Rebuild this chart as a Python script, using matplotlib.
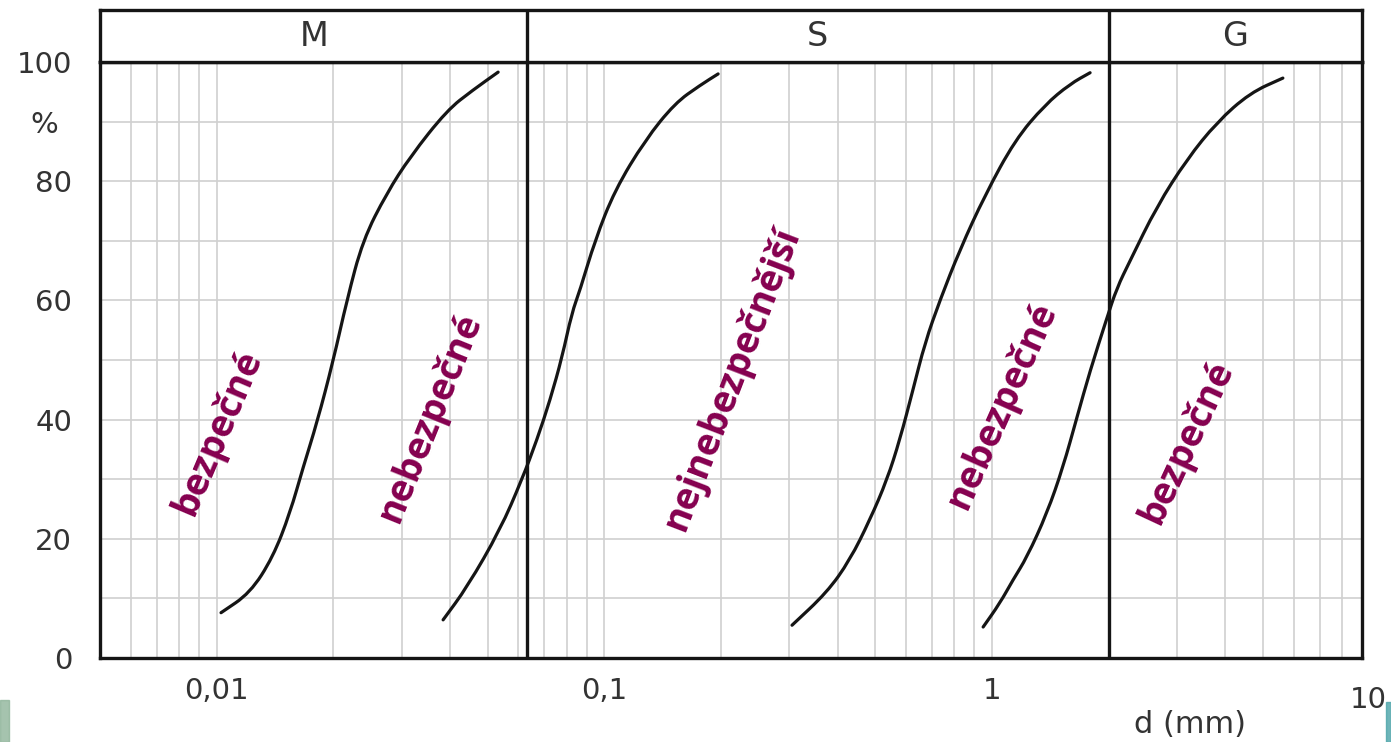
import matplotlib
matplotlib.use("Agg")
import numpy as np
import matplotlib.pyplot as plt
import matplotlib.transforms as mtransforms
from matplotlib.path import Path
from matplotlib.patches import PathPatch, Rectangle

# Grain size boundaries (mm) between silt (M), sand (S) and gravel (G)
bounds = [0.063, 2.0]
zones = ["M", "S", "G"]
zone_x = [0.0178, 0.355, 4.24]

# Grading limit curves: grain size d (mm) and passing (%)
c1_d = [0.01026, 0.01219, 0.01396, 0.01545, 0.01671, 0.01816, 0.01995, 0.02168,
        0.02382, 0.02746, 0.03155, 0.03926, 0.04581, 0.0532]
c1_p = [7.6, 10.9, 16.9, 24.3, 32.0, 39.6, 49.7, 60.1, 70.1, 78.0, 84.1, 91.9, 95.3, 98.3]

c2_d = [0.03837, 0.04426, 0.05383, 0.06124, 0.06699, 0.07244, 0.0778, 0.08241,
        0.0865, 0.09462, 0.1064, 0.1274, 0.1521, 0.1766, 0.1965]
c2_p = [6.4, 11.9, 21.5, 29.9, 36.6, 43.3, 50.5, 57.9, 61.7, 70.1, 78.5, 86.9, 93.1, 96.1, 98.0]

c3_d = [0.3048, 0.375, 0.4295, 0.4842, 0.5358, 0.5781, 0.6252, 0.6714, 0.7345,
        0.826, 0.9594, 1.146, 1.368, 1.588, 1.79]
c3_p = [5.5, 11.0, 16.4, 23.2, 29.9, 36.6, 45.0, 52.9, 60.1, 68.5, 77.7, 86.9, 92.8, 96.3, 98.2]

c4_d = [0.9484, 1.0475, 1.132, 1.23, 1.386, 1.524, 1.656, 1.79, 1.977, 2.099,
        2.268, 2.662, 3.184, 3.802, 4.624, 5.625]
c4_p = [5.2, 9.2, 13.1, 16.9, 24.3, 32.0, 40.4, 48.2, 57.0, 62.1, 66.6, 75.8, 83.7, 89.9, 94.8, 97.3]

# Zone labels between the curves
lab_text = ["bezpečné", "nebezpečné", "nejnebezpečnější", "nebezpečné", "bezpečné"]
lab_d = [0.01008, 0.03548, 0.2133, 1.061, 3.184]
lab_p = [37.8, 40.3, 46.8, 42.3, 36.1]
lab_rot = [67, 68, 69, 66, 65]

xticks = [0.01, 0.1, 1]
xtick_labels = ["0,01", "0,1", "1"]
yticks = [0, 20, 40, 60, 80, 100]


def smooth_path(d, p):
    """Quadratic Bezier path through the curve, corners rounded at each point."""
    d = np.asarray(d)
    p = np.asarray(p)
    mid_d = np.sqrt(d[:-1] * d[1:])  # midpoint on a log axis
    mid_p = (p[:-1] + p[1:]) / 2
    verts = [(d[0], p[0]), (mid_d[0], mid_p[0])]
    codes = [Path.MOVETO, Path.LINETO]
    for i in range(1, len(d) - 1):
        verts += [(d[i], p[i]), (mid_d[i], mid_p[i])]
        codes += [Path.CURVE3, Path.CURVE3]
    verts.append((d[-1], p[-1]))
    codes.append(Path.LINETO)
    return Path(verts, codes)


W, H = 1391, 742
fig = plt.figure(figsize=(W / 100, H / 100), dpi=100)
ax = fig.add_axes([100 / W, 84 / H, 1262 / W, 596 / H])
band = fig.add_axes([100 / W, 680 / H, 1262 / W, 52 / H], sharex=ax)

ink = "#151515"
grid_c = "#d0d0d0"
text_c = "#333333"

ax.set_xscale("log")
ax.set_xlim(0.005, 9)
ax.set_ylim(0, 100)
ax.set_yticks(yticks)
ax.set_yticks(range(10, 100, 10), minor=True)
ax.grid(which="both", color=grid_c, lw=1.2)
ax.set_axisbelow(True)
ax.set_xticks(xticks)
ax.set_xticklabels(xtick_labels)
ax.tick_params(which="both", length=0, labelsize=21, labelcolor=text_c)
ax.tick_params(axis="x", pad=14)
ax.tick_params(axis="y", pad=20)
for s in ax.spines.values():
    s.set_linewidth(2.4)
    s.set_color(ink)

trans = mtransforms.blended_transform_factory(ax.transAxes, ax.transAxes)
ax.text(1.005, -0.07, "10", transform=trans, ha="center", va="center",
        fontsize=21, color=text_c)
ax.text(-0.044, 0.894, "%", transform=ax.transAxes, ha="center", va="center",
        fontsize=21, color=text_c)
ax.text(0.864, -0.111, "d (mm)", transform=ax.transAxes, ha="center", va="center",
        fontsize=22, color=text_c)

for d, p in [(c1_d, c1_p), (c2_d, c2_p), (c3_d, c3_p), (c4_d, c4_p)]:
    ax.add_patch(PathPatch(smooth_path(d, p), fill=False, edgecolor=ink, lw=2.3,
                           capstyle="round", joinstyle="round"))

for b in bounds:
    ax.axvline(b, color=ink, lw=2.4)
    band.axvline(b, color=ink, lw=2.4)

for t, d, p, r in zip(lab_text, lab_d, lab_p, lab_rot):
    ax.text(d, p, t, rotation=r, rotation_mode="anchor", ha="center", va="center",
            fontsize=27, fontweight="bold", family="Open Sans", color="#85004f")

# Header band with the soil classes
band.set_ylim(0, 1)
band.set_yticks([])
band.tick_params(which="both", length=0, labelbottom=False)
for s in band.spines.values():
    s.set_linewidth(2.4)
    s.set_color(ink)
for z, x in zip(zones, zone_x):
    band.text(x, 0.5, z, ha="center", va="center", fontsize=24, color=text_c)

# Slide edge remnants in the bottom corners
fig.patches.append(Rectangle((0, 0), 9 / W, 42 / H, transform=fig.transFigure,
                             color="#8fb59a", alpha=0.8))
fig.patches.append(Rectangle((1386 / W, 0), 5 / W, 40 / H, transform=fig.transFigure,
                             color="#4aa3a8", alpha=0.8))

fig.savefig("out.png", dpi=100)
